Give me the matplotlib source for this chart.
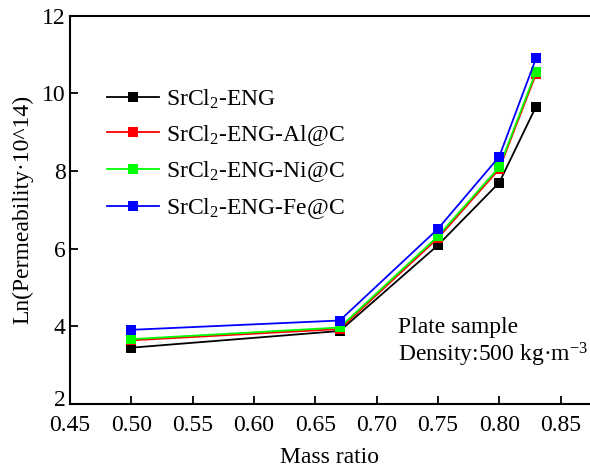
import matplotlib
matplotlib.use('Agg')
import matplotlib.pyplot as plt
import matplotlib.transforms as mtransforms

# Ln(permeability) of plate samples versus mass ratio
mass_ratio = [0.50, 0.67, 0.75, 0.80, 0.83]
srcl2_eng = [3.45, 3.88, 6.09, 7.70, 9.66]
srcl2_eng_al = [3.64, 3.93, 6.27, 8.05, 10.50]
srcl2_eng_ni = [3.67, 3.97, 6.32, 8.10, 10.56]
srcl2_eng_fe = [3.91, 4.15, 6.51, 8.37, 10.90]

labels = ['SrCl$_2$-ENG', 'SrCl$_2$-ENG-Al@C', 'SrCl$_2$-ENG-Ni@C', 'SrCl$_2$-ENG-Fe@C']
colors = ['#000000', '#ff0000', '#00ff00', '#0000ff']
x_ticks = [0.45, 0.50, 0.55, 0.60, 0.65, 0.70, 0.75, 0.80, 0.85]
y_ticks = [2, 4, 6, 8, 10, 12]

plt.rcParams['font.family'] = 'Liberation Serif'
plt.rcParams['mathtext.fontset'] = 'custom'
plt.rcParams['mathtext.rm'] = 'Liberation Serif'
plt.rcParams['mathtext.default'] = 'regular'
plt.rcParams['font.size'] = 17

fig = plt.figure(figsize=(5.9, 4.75), dpi=100)
ax = fig.add_axes([0.1186, 0.1495, 0.8814, 0.8175])

for y, lab, c in zip([srcl2_eng, srcl2_eng_al, srcl2_eng_ni, srcl2_eng_fe], labels, colors):
    ax.plot(mass_ratio, y, '-', color=c, lw=1.3, marker='s', markersize=6.5,
            markeredgewidth=0, label=lab)

ax.set_xlim(0.45, 0.874)
ax.set_ylim(2, 12)
ax.set_xticks(x_ticks)
ax.set_xticklabels(['%.2f' % v for v in x_ticks])
ax.set_yticks(y_ticks)
ax.tick_params(direction='in', length=6, width=1.3)
ax.tick_params(axis='x', pad=8)
ax.tick_params(axis='y', pad=3)

# lift the bottom y label a little so it clears the first x label
lbl = ax.get_yticklabels()[0]
lbl.set_transform(lbl.get_transform() +
                  mtransforms.ScaledTranslation(0, 4 / 72, fig.dpi_scale_trans))

for side in ['left', 'bottom', 'top']:
    ax.spines[side].set_linewidth(1.5)
ax.spines['right'].set_visible(False)

ax.set_xlabel('Mass ratio', labelpad=8)
ax.set_ylabel('Ln(Permeability\u00b710^14)', labelpad=6)

ax.text(0.7175, 3.98, 'Plate sample', va='center', ha='left')
ax.text(0.7175, 3.26, 'Density:500 kg\u00b7m$^{-3}$', va='center', ha='left')

ax.legend(loc='upper left', bbox_to_anchor=(0.071, 0.815), frameon=False,
          handlelength=2.2, handletextpad=0.3, labelspacing=0.5,
          borderaxespad=0, borderpad=0)

fig.savefig('out.png', dpi=100)
